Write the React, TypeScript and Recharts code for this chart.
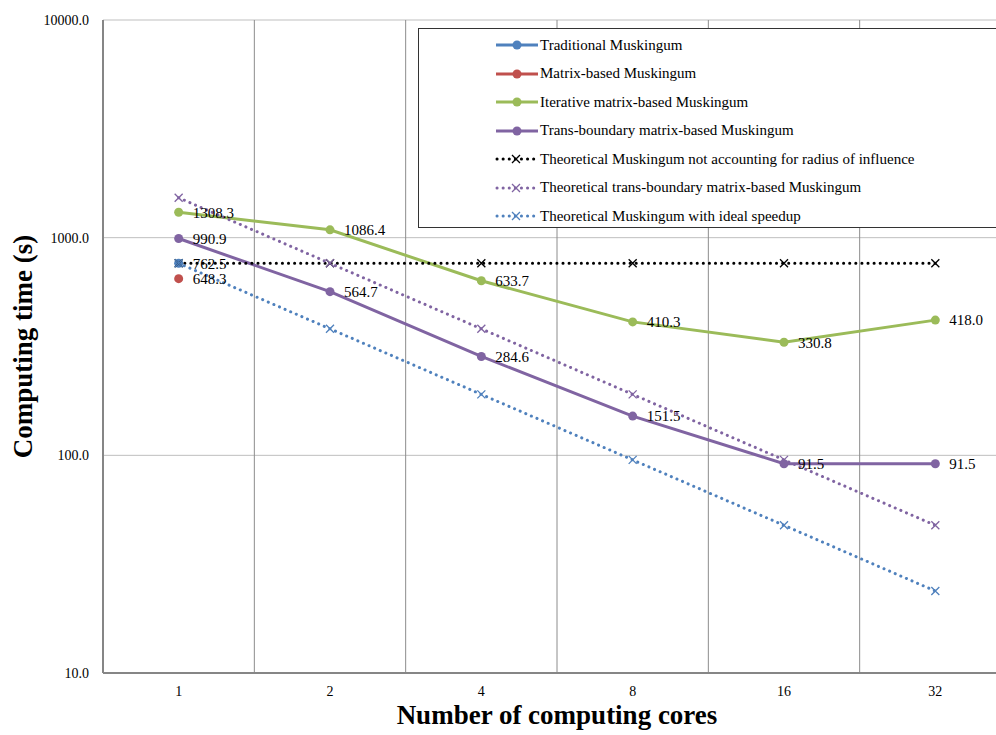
import React from "react";
import { LineChart, Line, XAxis, YAxis, CartesianGrid, Legend, LabelList } from "recharts";

const cores = ["1", "2", "4", "8", "16", "32"];
const traditional = [762.5, null, null, null, null, null];
const matrixBased = [648.3, null, null, null, null, null];
const iterative = [1308.3, 1086.4, 633.7, 410.3, 330.8, 418.0];
const transBoundary = [990.9, 564.7, 284.6, 151.5, 91.5, 91.5];
const theoNoRadius = [762.5, 762.5, 762.5, 762.5, 762.5, 762.5];
const theoTrans = [1525.0, 762.5, 381.3, 190.6, 95.3, 47.7];
const theoIdeal = [762.5, 381.3, 190.6, 95.3, 47.7, 23.8];
const yTicks = [10, 100, 1000, 10000];

const data = cores.map((c, i) => ({
  core: c,
  traditional: traditional[i],
  matrixBased: matrixBased[i],
  iterative: iterative[i],
  transBoundary: transBoundary[i],
  theoNoRadius: theoNoRadius[i],
  theoTrans: theoTrans[i],
  theoIdeal: theoIdeal[i],
}));

const FONT = '"Liberation Serif", "Times New Roman", serif';

const solid = [
  { key: "traditional", name: "Traditional Muskingum", color: "#4F81BD" },
  { key: "matrixBased", name: "Matrix-based Muskingum", color: "#C0504D" },
  { key: "iterative", name: "Iterative matrix-based Muskingum", color: "#9BBB59" },
  { key: "transBoundary", name: "Trans-boundary matrix-based Muskingum", color: "#8064A2" },
];
const dotted = [
  { key: "theoNoRadius", name: "Theoretical Muskingum not accounting for radius of influence", color: "#000000" },
  { key: "theoTrans", name: "Theoretical trans-boundary matrix-based Muskingum", color: "#8064A2" },
  { key: "theoIdeal", name: "Theoretical Muskingum with ideal speedup", color: "#4F81BD" },
];
const legendItems = [...solid.map((s) => ({ ...s, dotted: false })), ...dotted.map((s) => ({ ...s, dotted: true }))];

const Cross = (color: string) => (props: any) => {
  const { cx, cy, index } = props;
  if (cx == null || cy == null) return <g key={index} />;
  const s = 4;
  return (
    <g key={index}>
      <path d={`M${cx - s},${cy - s}L${cx + s},${cy + s}M${cx - s},${cy + s}L${cx + s},${cy - s}`} stroke={color} strokeWidth={1.3} fill="none" />
    </g>
  );
};

const LegendBox = () => (
  <div
    style={{
      position: "absolute",
      left: 0,
      top: 0,
      border: "1.5px solid #333",
      background: "#fff",
      width: 600,
      height: 200,
      boxSizing: "border-box",
      paddingTop: 2,
      fontFamily: FONT,
      fontSize: 15,
      color: "#000",
      textAlign: "left",
    }}
  >
    {legendItems.map((p, i) => (
      <div key={i} style={{ height: 28.5, display: "flex", alignItems: "center" }}>
        <svg width={121} height={14} style={{ flex: "none" }}>
          {p.dotted ? (
            <>
              <line x1={78} y1={7} x2={116} y2={7} stroke={p.color} strokeWidth={3} strokeDasharray="0.1 6" strokeLinecap="round" />
              <path d="M93,3L101,11M93,11L101,3" stroke={p.color} strokeWidth={1.3} />
            </>
          ) : (
            <>
              <line x1={77} y1={7} x2={119} y2={7} stroke={p.color} strokeWidth={3} />
              <circle cx={98} cy={7} r={4.5} fill={p.color} />
            </>
          )}
        </svg>
        <span style={{ whiteSpace: "nowrap" }}>{p.name}</span>
      </div>
    ))}
  </div>
);

const titleStyle = {
  fontFamily: FONT,
  fontSize: 27,
  fontWeight: "bold",
  fill: "#000",
  fontVariantLigatures: "none",
  fontFeatureSettings: '"liga" 0',
};

export default function App() {
  return (
    <div style={{ position: "absolute", left: 8, top: 8, width: 988, height: 727, overflow: "hidden" }}>
      <LineChart width={1003} height={727} data={data} margin={{ top: 12, right: 0, left: 0, bottom: 0 }}>
        <CartesianGrid stroke="#BFBFBF" vertical={false} />
        <CartesianGrid
          stroke="#8C8C8C"
          horizontal={false}
          verticalCoordinatesGenerator={({ offset }: any) =>
            cores.slice(1).map((_, i) => offset.left + ((i + 1) * offset.width) / cores.length)
          }
          syncWithTicks={false}
        />
        <XAxis
          dataKey="core"
          scale="band"
          height={62}
          axisLine={{ stroke: "#868686", strokeWidth: 2 }}
          tickLine={false}
          tickSize={0}
          tickMargin={13}
          tick={{ fontFamily: FONT, fontSize: 14, fill: "#000" }}
          label={{
            value: "Number of computing cores",
            position: "insideBottom",
            offset: 11,
            style: titleStyle,
          }}
        />
        <YAxis
          scale="log"
          type="number"
          domain={[10, 10000]}
          ticks={yTicks}
          allowDataOverflow
          width={95}
          axisLine={{ stroke: "#868686", strokeWidth: 2 }}
          tickLine={false}
          tickSize={0}
          tickMargin={14}
          tickFormatter={(v: number) => v.toFixed(1)}
          tick={{ fontFamily: FONT, fontSize: 14, fill: "#000" }}
          label={{
            value: "Computing time (s)",
            angle: -90,
            position: "insideLeft",
            offset: 14,
            style: { ...titleStyle, textAnchor: "middle" },
          }}
        />
        <Legend
          content={<LegendBox />}
          wrapperStyle={{ position: "absolute", left: 410, top: 20, width: 0, height: 0, overflow: "visible" }}
        />
        {solid.map((s) => (
          <Line
            key={s.key}
            dataKey={s.key}
            name={s.name}
            stroke={s.color}
            strokeWidth={3}
            dot={{ r: 4.5, fill: s.color, stroke: s.color, strokeWidth: 0 }}
            isAnimationActive={false}
            connectNulls={false}
          >
            <LabelList
              dataKey={s.key}
              position="right"
              offset={14}
              formatter={(v: any) => (v == null ? "" : Number(v).toFixed(1))}
              style={{ fontFamily: FONT, fontSize: 15, fill: "#000" }}
            />
          </Line>
        ))}
        {dotted.map((s) => (
          <Line
            key={s.key}
            dataKey={s.key}
            name={s.name}
            stroke={s.color}
            strokeWidth={3}
            strokeDasharray="0.1 6"
            strokeLinecap="round"
            dot={Cross(s.color)}
            isAnimationActive={false}
          />
        ))}
      </LineChart>
    </div>
  );
}
